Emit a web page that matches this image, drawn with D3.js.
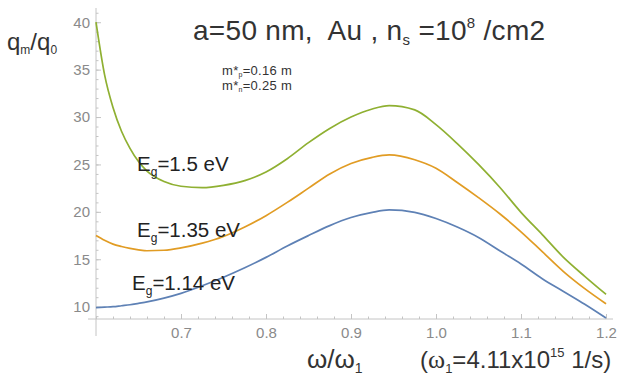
<!DOCTYPE html>
<html>
<head>
<meta charset="utf-8">
<script src="https://cdn.jsdelivr.net/npm/d3@7"></script>
<style>
    html, body { margin: 0; padding: 0; background: #fff; }
    svg text { font-family: "Liberation Sans", Arial, sans-serif; white-space: pre; }
</style>
</head>
<body>
<div id="chart-area"></div>
<script>
// Frequency grid (omega / omega_1)
const omega = [0.60, 0.61, 0.62, 0.63, 0.64, 0.65, 0.66, 0.68, 0.70, 0.725,
               0.75, 0.775, 0.80, 0.825, 0.85, 0.875, 0.90, 0.925, 0.945, 0.975,
               1.00, 1.025, 1.05, 1.075, 1.10, 1.125, 1.15, 1.175, 1.20];

// q_m / q_0 for each band gap
const eg150 = [40.0, 34.5, 31.0, 28.5, 26.7, 25.3, 24.3, 23.2, 22.7, 22.55,
               22.8, 23.3, 24.2, 25.6, 27.3, 28.8, 30.0, 30.85, 31.2, 30.75,
               29.2, 27.2, 25.0, 22.6, 19.95, 17.6, 15.2, 13.2, 11.3];
const eg135 = [17.5, 17.0, 16.6, 16.35, 16.15, 16.0, 15.9, 15.95, 16.2, 16.7,
               17.4, 18.4, 19.6, 21.0, 22.5, 24.0, 25.1, 25.75, 26.0, 25.5,
               24.6, 23.1, 21.5, 19.8, 17.9, 15.8, 13.7, 11.9, 10.3];
const eg114 = [9.9, 9.95, 10.0, 10.1, 10.2, 10.35, 10.5, 10.9, 11.4, 12.2,
               13.1, 14.1, 15.2, 16.4, 17.5, 18.55, 19.4, 19.95, 20.2, 19.95,
               19.3, 18.4, 17.3, 15.9, 14.5, 12.95, 11.6, 10.25, 8.8];

const xTicks = [0.7, 0.8, 0.9, 1.0, 1.1, 1.2];
const yTicks = [10, 15, 20, 25, 30, 35, 40];

const WIDTH = 617;
const HEIGHT = 375;

const svg = d3.select('#chart-area').append('svg')
    .attr('width', WIDTH)
    .attr('height', HEIGHT);

const xScale = d3.scaleLinear().domain([0.6, 1.2]).range([96, 606]);
const yScale = d3.scaleLinear().domain([8.7, 41.5]).range([319, 8]);

const AXIS_COLOR = '#c4c4c4';
const LABEL_COLOR = '#8a8a8a';

// Minor ticks
const xMinor = d3.range(0.6, 1.2001, 0.02);
const yMinor = d3.range(9, 41.5, 1);

svg.append('g')
    .attr('transform', `translate(0,${yScale(8.7)})`)
    .call(d3.axisBottom(xScale).tickValues(xMinor).tickSize(-2.5).tickFormat(''))
    .call(g => g.select('.domain').remove())
    .call(g => g.selectAll('line').attr('stroke', AXIS_COLOR));

svg.append('g')
    .attr('transform', `translate(${xScale(0.6)},0)`)
    .call(d3.axisLeft(yScale).tickValues(yMinor).tickSize(-2.5).tickFormat(''))
    .call(g => g.select('.domain').remove())
    .call(g => g.selectAll('line').attr('stroke', AXIS_COLOR));

// Major ticks and labels
svg.append('g')
    .attr('class', 'x axis')
    .attr('transform', `translate(0,${yScale(8.7)})`)
    .call(d3.axisBottom(xScale).tickValues(xTicks).tickSize(-5).tickPadding(8).tickFormat(d3.format('.1f')))
    .call(g => g.select('.domain').remove())
    .call(g => g.selectAll('line').attr('stroke', AXIS_COLOR))
    .call(g => g.selectAll('text').attr('fill', LABEL_COLOR).attr('font-size', 15)
        .attr('font-family', '"Liberation Sans", Arial, sans-serif'));

svg.append('g')
    .attr('class', 'y axis')
    .attr('transform', `translate(${xScale(0.6)},0)`)
    .call(d3.axisLeft(yScale).tickValues(yTicks).tickSize(-5).tickPadding(6))
    .call(g => g.select('.domain').remove())
    .call(g => g.selectAll('line').attr('stroke', AXIS_COLOR))
    .call(g => g.selectAll('text').attr('fill', LABEL_COLOR).attr('font-size', 15)
        .attr('font-family', '"Liberation Sans", Arial, sans-serif'));

// Axis lines (they overshoot the origin a little)
svg.append('line')
    .attr('x1', xScale(0.6) - 8).attr('x2', xScale(1.2) + 7)
    .attr('y1', yScale(8.7)).attr('y2', yScale(8.7))
    .attr('stroke', AXIS_COLOR);
svg.append('line')
    .attr('x1', xScale(0.6)).attr('x2', xScale(0.6))
    .attr('y1', yScale(41.5)).attr('y2', yScale(8.7) + 17)
    .attr('stroke', AXIS_COLOR);

// Curves
const series = [
    {values: eg114, color: '#5e81b5'},
    {values: eg135, color: '#e19c24'},
    {values: eg150, color: '#8fb032'}
];

const line = d3.line()
    .x((d, i) => xScale(omega[i]))
    .y(d => yScale(d))
    .curve(d3.curveMonotoneX);

svg.selectAll('path.curve')
    .data(series)
    .enter()
    .append('path')
    .attr('class', 'curve')
    .attr('d', d => line(d.values))
    .attr('fill', 'none')
    .attr('stroke', d => d.color)
    .attr('stroke-width', 1.7);

// Y axis title q_m/q_0
const yTitle = svg.append('text')
    .attr('x', 7).attr('y', 50)
    .attr('font-size', 24)
    .attr('fill', '#333');
yTitle.append('tspan').text('q');
yTitle.append('tspan').attr('font-size', 12).attr('dy', 4).text('m');
yTitle.append('tspan').attr('dy', -4).text('/q');
yTitle.append('tspan').attr('font-size', 12).attr('dy', 4).text('0');

// Title
const title = svg.append('text')
    .attr('x', 193).attr('y', 40)
    .attr('font-size', 28)
    .attr('letter-spacing', 0.3)
    .attr('fill', '#333');
title.append('tspan').text('a=50 nm,  Au , n');
title.append('tspan').attr('font-size', 15).attr('dy', 5).text('s');
title.append('tspan').attr('dy', -5).text(' =10');
title.append('tspan').attr('font-size', 15).attr('dy', -12).text('8');
title.append('tspan').attr('dy', 12).text(' /cm2');

// Effective masses
const masses = [['p', '0.16'], ['n', '0.25']];
masses.forEach((m, i) => {
    const t = svg.append('text')
        .attr('x', 222).attr('y', 75 + i * 15)
        .attr('font-size', 13)
        .attr('letter-spacing', 0.3)
        .attr('fill', '#333');
    t.append('tspan').text('m*');
    t.append('tspan').attr('font-size', 7).attr('dy', 2).text(m[0]);
    t.append('tspan').attr('dy', -2).text('=' + m[1] + ' m');
});

// Curve labels
const curveLabels = [
    {text: '1.5 eV', x: 137, y: 171},
    {text: '1.35 eV', x: 137, y: 237},
    {text: '1.14 eV', x: 132, y: 290}
];
curveLabels.forEach(l => {
    const t = svg.append('text')
        .attr('x', l.x).attr('y', l.y)
        .attr('font-size', 20.5)
        .attr('fill', '#222');
    t.append('tspan').text('E');
    t.append('tspan').attr('font-size', 12).attr('dy', 5).text('g');
    t.append('tspan').attr('dy', -5).text('=' + l.text);
});

// X axis title
const xTitle = svg.append('text')
    .attr('x', 307).attr('y', 368)
    .attr('font-size', 26)
    .attr('font-family', '"Liberation Serif", serif')
    .attr('fill', '#333');
xTitle.append('tspan').text('ω/ω');
xTitle.append('tspan').attr('font-size', 14).attr('dy', 5).text('1');

const xNote = svg.append('text')
    .attr('x', 420).attr('y', 368)
    .attr('font-size', 24)
    .attr('fill', '#333');
xNote.append('tspan').text('(');
xNote.append('tspan').attr('font-family', '"Liberation Serif", serif').attr('font-size', 26).text('ω');
xNote.append('tspan').attr('font-size', 13).attr('dy', 5).text('1');
xNote.append('tspan').attr('dy', -5).text('=4.11x10');
xNote.append('tspan').attr('font-size', 13).attr('dy', -11).text('15');
xNote.append('tspan').attr('dy', 11).text(' 1/s)');
</script>
</body>
</html>
